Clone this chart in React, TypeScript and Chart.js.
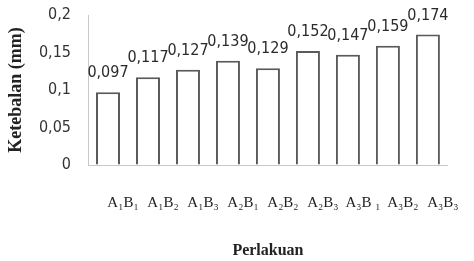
import React, { useEffect, useRef } from "react";
import { Chart, registerables } from "chart.js";

Chart.register(...registerables);

const categories = ["A₁B₁", "A₁B₂", "A₁B₃", "A₂B₁", "A₂B₂", "A₂B₃", "A₃B ₁", "A₃B₂", "A₃B₃"];
const thickness = [0.097, 0.117, 0.127, 0.139, 0.129, 0.152, 0.147, 0.159, 0.174];
const valueLabels = ["0,097", "0,117", "0,127", "0,139", "0,129", "0,152", "0,147", "0,159", "0,174"];
const yTitle = "Ketebalan (mm)";
const xTitle = "Perlakuan";

const condensed = "'DejaVu Sans Condensed', 'DejaVu Sans', sans-serif";
const serif = "'Liberation Serif', 'Times New Roman', serif";

const valueLabelPlugin = {
  id: "valueLabels",
  afterDatasetsDraw(chart: any) {
    const ctx = chart.ctx;
    const meta = chart.getDatasetMeta(0);
    ctx.save();
    ctx.font = `16px ${condensed}`;
    ctx.fillStyle = "#2a2a2a";
    ctx.textAlign = "center";
    ctx.textBaseline = "alphabetic";
    meta.data.forEach((bar: any, i: number) => {
      ctx.fillText(valueLabels[i], bar.x, bar.y - 15);
    });
    ctx.restore();
  },
};

export default function App() {
  const ref = useRef<HTMLCanvasElement>(null);
  useEffect(() => {
    if (!ref.current) return;
    const chart = new Chart(ref.current, {
      type: "bar",
      data: {
        labels: categories,
        datasets: [
          {
            data: thickness,
            backgroundColor: "#ffffff",
            borderColor: "#5a5a5a",
            borderWidth: 2,
            barPercentage: 0.6,
            categoryPercentage: 1,
          },
        ],
      },
      options: {
        animation: false,
        responsive: false,
        layout: { padding: { top: 15, right: 26, left: 0, bottom: 0 } },
        plugins: { legend: { display: false }, tooltip: { enabled: false } },
        scales: {
          x: {
            grid: { color: "rgba(0,0,0,0)", drawTicks: false },
            border: { display: true, color: "#c8c8c8", width: 1 },
            ticks: {
              autoSkip: false,
              maxRotation: 0,
              minRotation: 0,
              padding: 29,
              labelOffset: 15,
              color: "#222",
              font: { family: serif, size: 15 },
            },
            title: {
              display: true,
              text: xTitle,
              color: "#222",
              font: { family: serif, size: 16, weight: "bold" },
              padding: { top: 1, bottom: 1 },
            },
            afterFit: (s: any) => {
              s.height = 96;
            },
          },
          y: {
            min: 0,
            max: 0.2,
            grid: { color: "rgba(0,0,0,0)", drawTicks: false },
            border: { display: true, color: "#c8c8c8", width: 1 },
            ticks: {
              stepSize: 0.05,
              padding: 17,
              color: "#333",
              font: { family: condensed, size: 16 },
              callback: (v: any) => String(Math.round(Number(v) * 100) / 100).replace(".", ","),
            },
            title: {
              display: true,
              text: yTitle,
              color: "#222",
              font: { family: serif, size: 18, weight: "bold" },
              padding: { top: 6, bottom: 6 },
            },
            afterFit: (s: any) => {
              s.width = 88;
              s.paddingTop = 0;
              s.paddingBottom = 0;
            },
          },
        },
      },
      plugins: [valueLabelPlugin],
    });
    return () => chart.destroy();
  }, []);
  return (
    <div style={{ position: "fixed", left: 0, top: 0, width: 474, height: 261, background: "#fff" }}>
      <canvas ref={ref} width={474} height={261} style={{ width: 474, height: 261 }} />
    </div>
  );
}
